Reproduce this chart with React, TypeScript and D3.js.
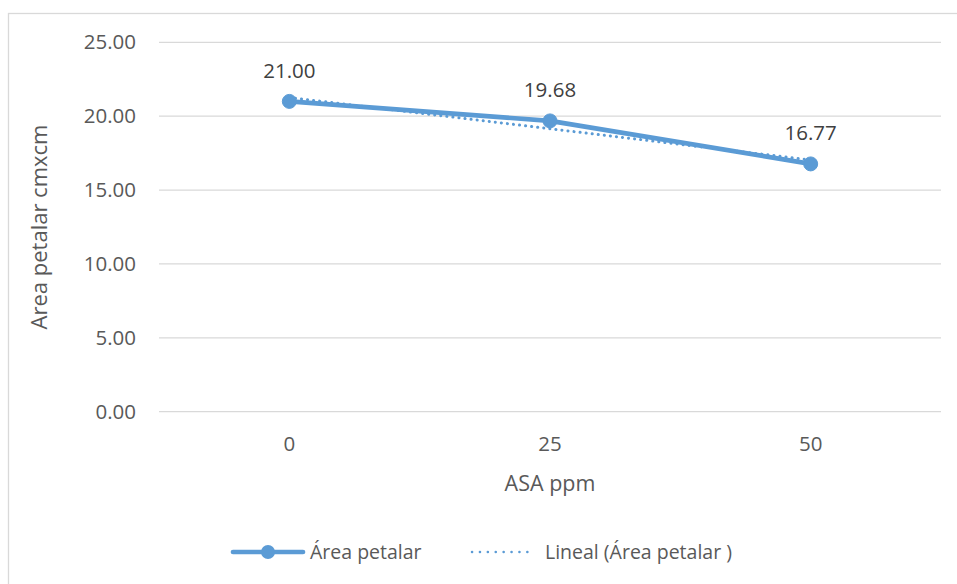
import React from "react";
import * as d3 from "d3";

const categories = ["0", "25", "50"];
const values = [21.0, 19.68, 16.77];
const valueLabels = ["21.00", "19.68", "16.77"];
const yTicks = [0, 5, 10, 15, 20, 25];
const seriesName = "Área petalar";
const trendName = "Lineal (Área petalar )";
const xTitle = "ASA ppm";
const yTitle = "Area petalar cmxcm";

const W = 957;
const H = 584;
const FONT = "'Open Sans', 'Noto Sans', sans-serif";
const BLUE = "#5B9BD5";

export default function App() {
  const left = 159, right = 941, top = 42.3, bottom = 411.7;
  const x = d3.scaleBand<string>().domain(categories).range([left, right]);
  const cx = (c: string) => (x(c) as number) + x.bandwidth() / 2;
  const y = d3.scaleLinear().domain([0, 25]).range([bottom, top]);

  // linear trend (least squares on category index)
  const idx = values.map((_, i) => i + 1);
  const mx = d3.mean(idx) as number;
  const my = d3.mean(values) as number;
  const slope =
    d3.sum(idx.map((v, i) => (v - mx) * (values[i] - my))) /
    d3.sum(idx.map((v) => (v - mx) * (v - mx)));
  const icpt = my - slope * mx;
  const trendPts: [number, number][] = [
    [cx(categories[0]), y(icpt + slope * 1)],
    [cx(categories[categories.length - 1]), y(icpt + slope * categories.length)],
  ];

  const line = d3
    .line<number>()
    .x((_, i) => cx(categories[i]))
    .y((d) => y(d));

  return (
    <svg
      width={W}
      height={H}
      style={{ position: "absolute", left: 0, top: 0, background: "#fff" }}
    >
      <rect x={8.5} y={13.5} width={1200} height={1200} fill="#fff" stroke="#d9d9d9" strokeWidth={1.3} />
      {yTicks.map((t) => (
        <g key={t}>
          <line x1={left} x2={right} y1={y(t)} y2={y(t)} stroke="#d9d9d9" strokeWidth={1.3} />
          <text
            x={136}
            y={y(t)}
            dy="0.35em"
            textAnchor="end"
            fontFamily={FONT}
            fontSize={20.5}
            fill="#595959"
          >
            {t.toFixed(2)}
          </text>
        </g>
      ))}
      {categories.map((c) => (
        <text
          key={c}
          x={cx(c)}
          y={444}
          dy="0.35em"
          textAnchor="middle"
          fontFamily={FONT}
          fontSize={20.5}
          fill="#595959"
        >
          {c}
        </text>
      ))}
      <text
        x={(left + right) / 2}
        y={483}
        dy="0.35em"
        textAnchor="middle"
        fontFamily={FONT}
        fontSize={21.5}
        fill="#595959"
      >
        {xTitle}
      </text>
      <text
        transform={`translate(39,${(top + bottom) / 2}) rotate(-90)`}
        dy="0.35em"
        textAnchor="middle"
        fontFamily={FONT}
        fontSize={22}
        fill="#595959"
      >
        {yTitle}
      </text>

      {/* trend line */}
      <line
        x1={trendPts[0][0]}
        y1={trendPts[0][1]}
        x2={trendPts[1][0]}
        y2={trendPts[1][1]}
        stroke={BLUE}
        strokeWidth={3}
        strokeDasharray="0.1 6"
        strokeLinecap="round"
      />
      {/* series */}
      <path d={line(values) || ""} fill="none" stroke={BLUE} strokeWidth={4.7} strokeLinejoin="round" strokeLinecap="round" />
      {values.map((v, i) => (
        <circle key={i} cx={cx(categories[i])} cy={y(v)} r={7} fill={BLUE} stroke={BLUE} />
      ))}
      {values.map((v, i) => (
        <text
          key={"l" + i}
          x={cx(categories[i])}
          y={y(v) - 31}
          dy="0.35em"
          textAnchor="middle"
          fontFamily={FONT}
          fontSize={20.5}
          fill="#404040"
        >
          {valueLabels[i]}
        </text>
      ))}

      {/* legend */}
      <line x1={233} x2={303} y1={552} y2={552} stroke={BLUE} strokeWidth={4.7} strokeLinecap="round" />
      <circle cx={268} cy={552} r={7} fill={BLUE} />
      <text x={310} y={552} dy="0.35em" fontFamily={FONT} fontSize={19.5} fill="#595959">
        {seriesName}
      </text>
      <line x1={472} x2={535} y1={552} y2={552} stroke={BLUE} strokeWidth={2.5} strokeDasharray="0.1 7.8" strokeLinecap="round" />
      <text x={545} y={552} dy="0.35em" fontFamily={FONT} fontSize={19.5} fill="#595959">
        {trendName}
      </text>
    </svg>
  );
}
